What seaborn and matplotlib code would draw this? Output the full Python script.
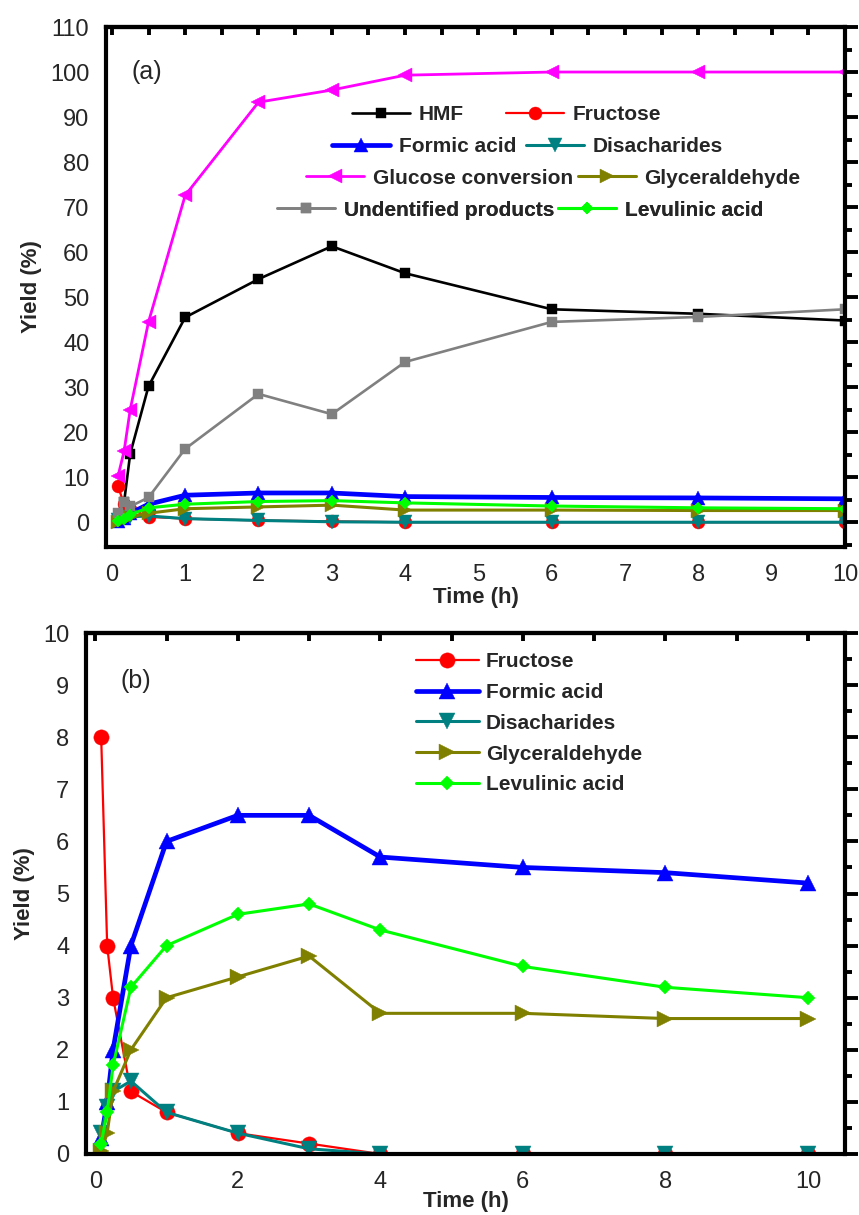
import numpy as np
import pandas as pd
import seaborn as sns
import matplotlib
matplotlib.use("Agg")
import matplotlib.pyplot as plt
from matplotlib.ticker import MultipleLocator

# Reaction time (h)
time_h = [0.083, 0.167, 0.25, 0.5, 1, 2, 3, 4, 6, 8, 10]

# Yields (%)
hmf = [0.5, 4.5, 15.2, 30.2, 45.5, 54.0, 61.3, 55.3, 47.3, 46.3, 44.8]
fructose = [8.0, 4.0, 3.0, 1.2, 0.8, 0.4, 0.2, 0.0, 0.0, 0.0, 0.0]
formic_acid = [0.3, 1.0, 2.0, 4.0, 6.0, 6.5, 6.5, 5.7, 5.5, 5.4, 5.2]
disacharides = [0.4, 0.9, 1.2, 1.4, 0.8, 0.4, 0.1, 0.0, 0.0, 0.0, 0.0]
glucose_conversion = [10.2, 15.8, 25.0, 44.5, 72.6, 93.3, 96.0, 99.3, 100.0, 100.0, 100.0]
glyceraldehyde = [0.05, 0.4, 1.2, 2.0, 3.0, 3.4, 3.8, 2.7, 2.7, 2.6, 2.6]
undentified = [2.0, 4.5, 3.5, 5.5, 16.3, 28.5, 24.0, 35.6, 44.5, 45.6, 47.3]
levulinic_acid = [0.2, 0.8, 1.7, 3.2, 4.0, 4.6, 4.8, 4.3, 3.6, 3.2, 3.0]

series = {
    "HMF": hmf,
    "Fructose": fructose,
    "Formic acid": formic_acid,
    "Disacharides": disacharides,
    "Glucose conversion": glucose_conversion,
    "Glyceraldehyde": glyceraldehyde,
    "Undentified products": undentified,
    "Levulinic acid": levulinic_acid,
}

# color, marker, line width (pt), marker size (pt)
styles = {
    "HMF": dict(color="#000000", marker="s", lw=1.9, ms=9),
    "Fructose": dict(color="#FF0000", marker="o", lw=1.6, ms=11),
    "Formic acid": dict(color="#0000FF", marker="^", lw=3.4, ms=12),
    "Disacharides": dict(color="#008080", marker="v", lw=2.2, ms=12),
    "Glucose conversion": dict(color="#FF00FF", marker="<", lw=2.0, ms=12),
    "Glyceraldehyde": dict(color="#808000", marker=">", lw=2.2, ms=12),
    "Undentified products": dict(color="#808080", marker="s", lw=1.9, ms=9),
    "Levulinic acid": dict(color="#00FF00", marker="D", lw=2.2, ms=7.6),
}

long = pd.DataFrame(
    [(name, t, v) for name, vals in series.items() for t, v in zip(time_h, vals)],
    columns=["series", "time", "yield"],
)

sns.set_theme(style="white")
plt.rcParams["font.family"] = ["Liberation Sans", "DejaVu Sans"]

fig = plt.figure(figsize=(8.59, 12.15), dpi=100)
W, H = 859, 1215


def px_axes(left, top, right, bottom):
    return fig.add_axes([left / W, 1 - bottom / H, (right - left) / W, (bottom - top) / H])


ax_a = px_axes(106, 27, 845, 547)
ax_b = px_axes(86, 633, 845, 1154)


def draw(ax, names, scale=1.0):
    handles = {}
    for name in names:
        st = styles[name]
        sub = long[long["series"] == name]
        sns.lineplot(
            data=sub, x="time", y="yield", ax=ax, color=st["color"],
            marker=st["marker"], markersize=st["ms"] * scale,
            markeredgecolor=st["color"], markeredgewidth=0.3,
            linewidth=st["lw"], label=name, legend=False,
        )
        handles[name] = ax.get_lines()[-1]
    return handles


def style_axes(ax, xmaj, xmin):
    for sp in ax.spines.values():
        sp.set_linewidth(3.0)
        sp.set_color("black")
        sp.set_visible(True)
    ax.tick_params(which="both", direction="out", top=False, right=True,
                   labelright=False, color="black", labelsize=17, pad=3)
    ax.tick_params(which="major", length=9, width=2.8)
    ax.tick_params(which="minor", length=5, width=2.8)
    ax.set_facecolor("white")
    # top edge carries inward ticks without labels
    sec = ax.secondary_xaxis("top")
    sec.xaxis.set_major_locator(MultipleLocator(xmaj))
    sec.xaxis.set_minor_locator(MultipleLocator(xmin))
    sec.tick_params(which="both", direction="in", labeltop=False, color="black",
                    length=6, width=2.8)
    sec.spines["top"].set_linewidth(3.0)


# Panel (a)
order_a = ["HMF", "Fructose", "Formic acid", "Disacharides", "Glucose conversion",
           "Glyceraldehyde", "Undentified products", "Levulinic acid"]
h_a = draw(ax_a, order_a, scale=0.85)
ax_a.set_xlim(-0.08, 10)
ax_a.set_ylim(-5.5, 110)
ax_a.xaxis.set_major_locator(MultipleLocator(1))
ax_a.xaxis.set_minor_locator(MultipleLocator(0.5))
ax_a.yaxis.set_major_locator(MultipleLocator(10))
ax_a.yaxis.set_minor_locator(MultipleLocator(5))
style_axes(ax_a, 1, 0.5)
ax_a.set_xlabel("Time (h)", fontsize=16, fontweight="bold", labelpad=1)
ax_a.set_ylabel("Yield (%)", fontsize=16, fontweight="bold", labelpad=6)
ax_a.text(0.035, 0.937, "(a)", transform=ax_a.transAxes, fontsize=18, va="top")

# legend rows: (left entry, right entry, row y px, left x px, column gap px)
rows = [("HMF", "Fructose", 115, 352, 42),
        ("Formic acid", "Disacharides", 147, 332, 10),
        ("Glucose conversion", "Glyceraldehyde", 178, 306, 5),
        ("Undentified products", "Levulinic acid", 210, 277, 4)]
em_px = 15 * 100 / 72
for l, r, yy, xx, gap in rows:
    leg = ax_a.legend([h_a[l], h_a[r]], [l, r], ncol=2, loc="center left",
                      bbox_to_anchor=(xx / W, 1 - yy / H), bbox_transform=fig.transFigure,
                      frameon=False, prop=dict(size=15, weight="bold"),
                      handlelength=2.8, handletextpad=0.4, columnspacing=gap / em_px,
                      borderpad=0, borderaxespad=0)
    ax_a.add_artist(leg)

# Panel (b)
order_b = ["Fructose", "Formic acid", "Disacharides", "Glyceraldehyde", "Levulinic acid"]
h_b = draw(ax_b, order_b, scale=1.0)
ax_b.set_xlim(-0.13, 10.52)
ax_b.set_ylim(0, 10)
ax_b.xaxis.set_major_locator(MultipleLocator(2))
ax_b.xaxis.set_minor_locator(MultipleLocator(1))
ax_b.yaxis.set_major_locator(MultipleLocator(1))
ax_b.yaxis.set_minor_locator(MultipleLocator(0.5))
style_axes(ax_b, 2, 1)
ax_b.set_xlabel("Time (h)", fontsize=16, fontweight="bold", labelpad=-1)
ax_b.set_ylabel("Yield (%)", fontsize=16, fontweight="bold", labelpad=6)
ax_b.text(0.045, 0.93, "(b)", transform=ax_b.transAxes, fontsize=18, va="top")

labels_b = ["Fructose", "Formic acid", "Disacharides", "Glyceraldehyde", "Levulinic acid"]
ax_b.legend([h_b[n] for n in labels_b], labels_b, loc="upper left",
            bbox_to_anchor=(416 / W, 1 - 652 / H), bbox_transform=fig.transFigure,
            frameon=False, prop=dict(size=15, weight="bold"),
            handlelength=3.0, handletextpad=0.35, labelspacing=0.57,
            borderpad=0, borderaxespad=0)

fig.savefig("out.png", dpi=100, facecolor="white")
